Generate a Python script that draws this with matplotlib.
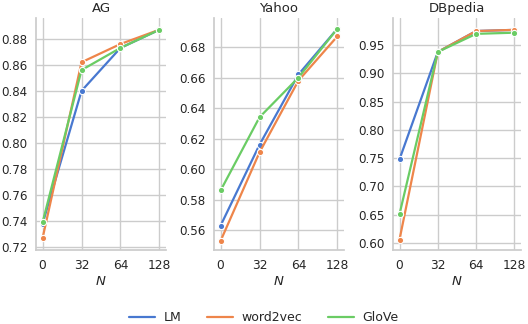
import matplotlib
matplotlib.use("Agg")
import matplotlib.pyplot as plt
import seaborn as sns
import numpy as np
from matplotlib.lines import Line2D

sns.set_theme(style="whitegrid")
plt.rcParams['font.family'] = ['DejaVu Sans']

n_labels = ["0", "32", "64", "128"]
series = ["LM", "word2vec", "GloVe"]
datasets = ["AG", "Yahoo", "DBpedia"]

ag_lm = [0.738, 0.840, 0.873, 0.887]
ag_w2v = [0.727, 0.862, 0.876, 0.887]
ag_glove = [0.739, 0.856, 0.873, 0.887]

yahoo_lm = [0.563, 0.616, 0.662, 0.692]
yahoo_w2v = [0.553, 0.611, 0.658, 0.687]
yahoo_glove = [0.586, 0.634, 0.660, 0.692]

db_lm = [0.748, 0.938, 0.975, 0.977]
db_w2v = [0.606, 0.938, 0.975, 0.977]
db_glove = [0.651, 0.938, 0.970, 0.972]

data = {
    "AG": [ag_lm, ag_w2v, ag_glove],
    "Yahoo": [yahoo_lm, yahoo_w2v, yahoo_glove],
    "DBpedia": [db_lm, db_w2v, db_glove],
}
ylims = {"AG": (0.7177, 0.896), "Yahoo": (0.547, 0.699), "DBpedia": (0.5875, 0.998)}
yticks = {
    "AG": np.arange(0.72, 0.8801, 0.02),
    "Yahoo": np.arange(0.56, 0.6801, 0.02),
    "DBpedia": np.arange(0.60, 0.9501, 0.05),
}

colors = sns.color_palette("muted")[:3]

fig = plt.figure(figsize=(5.28, 3.24), dpi=100)
lefts = [36, 214, 393]
widths = [130, 130, 128]
bottom = 1 - 250 / 324
height = (250 - 18) / 324
x = np.arange(len(n_labels))
for i, name in enumerate(datasets):
    ax = fig.add_axes([lefts[i] / 528, bottom, widths[i] / 528, height])
    for j, s in enumerate(series):
        ax.plot(x, data[name][j], color=colors[j], marker="o", markersize=4.5,
                markeredgecolor="white", markeredgewidth=0.8, linewidth=1.6, label=s)
    ax.set_xticks(x)
    ax.set_xticklabels(n_labels)
    ax.set_xlim(-0.17, 3.17)
    ax.set_ylim(*ylims[name])
    ax.set_yticks(yticks[name])
    ax.set_title(name, fontsize=9.5, pad=4)
    ax.set_xlabel("$N$", fontsize=9.5, labelpad=2)
    ax.tick_params(axis="x", labelsize=8.8, length=0, pad=6.3)
    ax.tick_params(axis="y", labelsize=8.6, length=0, pad=6.0)
    for sp in ["top", "right"]:
        ax.spines[sp].set_visible(False)
    for sp in ["left", "bottom"]:
        ax.spines[sp].set_color("#cccccc")

leg_handles = [Line2D([0], [0], color=c, linewidth=1.6) for c in colors]
fig.legend(leg_handles, series, loc="lower center", ncol=3, frameon=False,
           fontsize=9, bbox_to_anchor=(0.5, -0.035), handlelength=2.1,
           handletextpad=0.7, columnspacing=2.0)

fig.savefig("out.png", dpi=100)
